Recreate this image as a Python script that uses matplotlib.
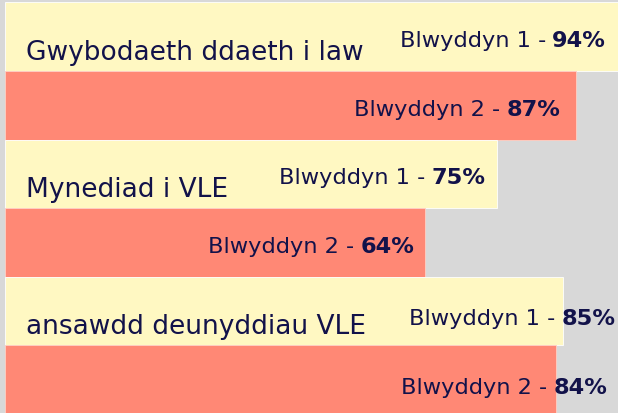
import matplotlib
matplotlib.use("Agg")
import matplotlib.pyplot as plt

# ── Data ──
categories = ["Gwybodaeth ddaeth i law", "Mynediad i VLE", "ansawdd deunyddiau VLE"]
year1 = [94, 75, 85]
year2 = [87, 64, 84]
series_names = ["Blwyddyn 1", "Blwyddyn 2"]

# ── Style ──
BG = "#d8d8d8"
YELLOW = "#fff8c2"
SALMON = "#ff8875"
TEXT = "#12124a"
FONT = "DejaVu Sans"

# label right-edge shift (in % units) relative to bar end
label_shift = [[-2.4, -2.3], [-1.8, -1.6], [8.1, 7.8]]

fig = plt.figure(figsize=(6.18, 4.14), dpi=100)
fig.patch.set_facecolor(BG)
ax = fig.add_axes([0, 0, 1, 1])
ax.set_facecolor(BG)

bar_h = 0.5
for i, cat in enumerate(categories):
    ax.barh(i - 0.25, year1[i], height=bar_h, color=YELLOW,
            edgecolor="#ffffff", linewidth=0.6)
    ax.barh(i + 0.25, year2[i], height=bar_h, color=SALMON,
            edgecolor="#ffd0c4", linewidth=0.6)

    # category label inside the yellow bar
    ax.text(3.2, i - 0.09, cat, ha="left", va="baseline",
            fontsize=19, color=TEXT, family=FONT)

    # value labels: regular series name + bold percentage
    for j, (val, yc) in enumerate([(year1[i], i - 0.25), (year2[i], i + 0.25)]):
        yb = yc + 0.07 + (0.025 if i == 2 else 0)
        b = ax.text(val + label_shift[i][j], yb, f"{val}%", ha="right",
                    va="baseline", fontsize=16.2, fontweight="bold",
                    color=TEXT, family=FONT)
        ax.annotate(f"{series_names[j]} -", xy=(0, 0), xycoords=b,
                    xytext=(-4.5, 0), textcoords="offset points",
                    ha="right", va="bottom", fontsize=16.2,
                    color=TEXT, family=FONT)

px = 6.56  # pixels per percent
ax.set_xlim(-5 / px, 613 / px)
unit = 137.2
top = -0.5 - 3.3 / unit
ax.set_ylim(top + 414 / unit, top)
ax.axis("off")

fig.savefig("out.png", dpi=100, facecolor=BG)
